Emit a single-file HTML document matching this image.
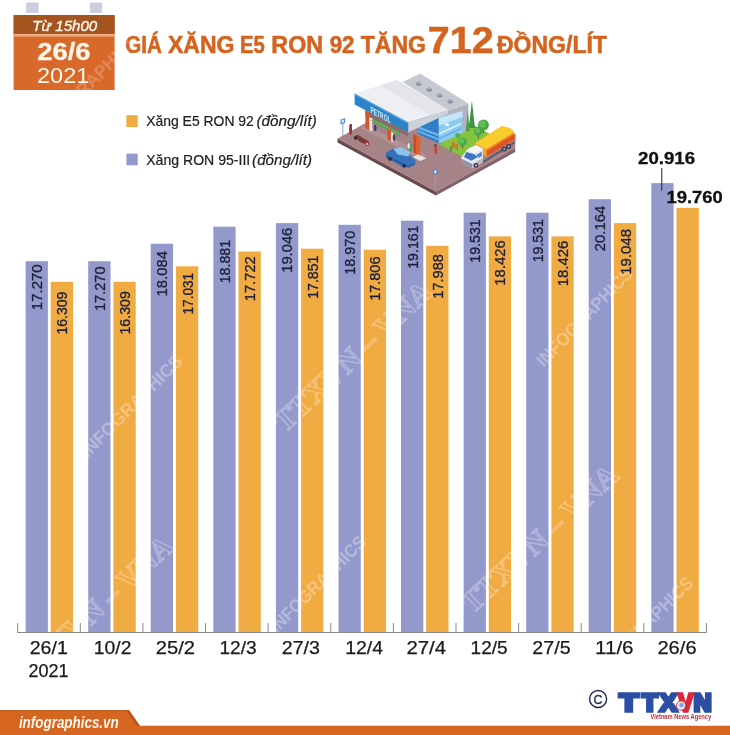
<!DOCTYPE html>
<html lang="vi">
<head>
<meta charset="utf-8">
<title>Giá xăng E5 RON 92 tăng 712 đồng/lít</title>
<style>
html,body{margin:0;padding:0;background:#fff;}
body{width:730px;height:735px;overflow:hidden;position:relative;font-family:"Liberation Sans",sans-serif;}
svg{display:block;position:absolute;left:0;top:0;}
text{font-family:"Liberation Sans",sans-serif;}
.bl{font-size:15px;fill:#1b1f3a;stroke:#1b1f3a;stroke-width:.3px;}
#dates text{fill:#1a1a1a;stroke:#1a1a1a;stroke-width:.25px;}
#toplabels text{fill:#111;stroke:#111;stroke-width:.3px;}
#title text{fill:#D4641F;stroke:#D4641F;stroke-width:.55px;}
#legend text{fill:#222;stroke:#222;stroke-width:.2px;}
#badge text{fill:#FFF6EA;}
.wm{font-weight:bold;fill:#fff;opacity:.30;}
</style>
</head>
<body>
<svg width="730" height="735" viewBox="0 0 730 735">
<rect width="730" height="735" fill="#ffffff"/>
<g id="badge">
<rect x="26.1" y="2.5" width="12.5" height="10.3" fill="#C9CFDE"/>
<rect x="90" y="2.5" width="12" height="10.3" fill="#C9CFDE"/>
<rect x="13.6" y="15" width="101" height="75" fill="#D9692A"/>
<rect x="13.6" y="15" width="101" height="18.9" fill="#A4541F"/>
<rect x="13.6" y="33.9" width="101" height="2.7" fill="#EBAE85"/>
<text x="32.32" y="31.2" font-size="15.4" font-style="italic" textLength="64.91" lengthAdjust="spacingAndGlyphs" stroke="#FFF6EA" stroke-width="0.35">Từ 15h00</text>
<text x="37.24" y="59.7" font-size="23.5" font-weight="bold" textLength="53.24" lengthAdjust="spacingAndGlyphs" stroke="#FFF6EA" stroke-width="0.3">26/6</text>
<text x="37.06" y="82.8" font-size="22.6" textLength="52.26" lengthAdjust="spacingAndGlyphs">2021</text>
</g>
<g id="title">
<text x="125.31" y="53.4" font-size="23" font-weight="bold" textLength="36.59" lengthAdjust="spacingAndGlyphs">GIÁ</text>
<text x="168.00" y="53.4" font-size="23" font-weight="bold" textLength="66.45" lengthAdjust="spacingAndGlyphs">XĂNG</text>
<text x="240.02" y="53.4" font-size="23" font-weight="bold" textLength="24.79" lengthAdjust="spacingAndGlyphs">E5</text>
<text x="271.39" y="53.4" font-size="23" font-weight="bold" textLength="51.75" lengthAdjust="spacingAndGlyphs">RON</text>
<text x="329.63" y="53.4" font-size="23" font-weight="bold" textLength="24.85" lengthAdjust="spacingAndGlyphs">92</text>
<text x="360.70" y="53.4" font-size="23" font-weight="bold" textLength="65.27" lengthAdjust="spacingAndGlyphs">TĂNG</text>
<text x="427.84" y="53.4" font-size="36.6" font-weight="bold" textLength="65.77" lengthAdjust="spacingAndGlyphs">712</text>
<text x="497.00" y="53.4" font-size="23" font-weight="bold" textLength="109.89" lengthAdjust="spacingAndGlyphs">ĐỒNG/LÍT</text>
</g>
<g id="legend">
<rect x="126.4" y="115.2" width="11.3" height="11.9" fill="#F1AB43"/>
<rect x="126.4" y="153.6" width="11.3" height="11.7" fill="#9499CB"/>
<text x="146.23" y="126.1" font-size="14.3" textLength="107.63" lengthAdjust="spacingAndGlyphs">Xăng E5 RON 92</text>
<text x="256.53" y="126.1" font-size="14.3" font-style="italic" textLength="60.32" lengthAdjust="spacingAndGlyphs">(đồng/lít)</text>
<text x="146.22" y="164.6" font-size="14.3" textLength="104.05" lengthAdjust="spacingAndGlyphs">Xăng RON 95-III</text>
<text x="252.14" y="164.6" font-size="14.3" font-style="italic" textLength="59.91" lengthAdjust="spacingAndGlyphs">(đồng/lít)</text>
</g>
<g id="station">
<polygon points="337.5,138.5 436.0,191.6 436.0,195.6 337.5,142.5" fill="#6A4C50"/>
<polygon points="436.0,191.6 515.2,148.1 515.2,152.1 436.0,195.6" fill="#84616A"/>
<polygon points="337.5,138.5 416.7,95.0 515.2,148.1 436.0,191.6" fill="#A68386"/>
<polygon points="360.1,128.0 366.2,125.0 426.4,155.1 420.4,158.9" fill="#B29194"/>
<polygon points="438.8,144.6 466.4,127.9 475.8,126.2 497.1,137.7 490.8,140.8 465.2,158.2" fill="#86C440"/>
<polygon points="465.2,158.2 515.7,134.0 515.2,148.1 507.2,152.5 471.2,166.4" fill="#A68386"/>
<polygon points="438.8,113.5 468.4,103.5 468.4,130.6 438.8,143.6" fill="#B0B4C0"/>
<polygon points="417.8,113.0 438.8,118.0 438.8,143.6 417.8,133.7" fill="#2F7FC6"/>
<polygon points="417.8,126.0 438.8,134.0 438.8,136.5 417.8,128.5" fill="#6BB4EA"/>
<polygon points="417.8,130.0 438.8,138.5 438.8,140.5 417.8,132.0" fill="#6BB4EA"/>
<polygon points="438.8,118.0 462.5,111.0 462.5,133.0 438.8,143.6" fill="#8CCBF1"/>
<polygon points="438.8,118.0 462.5,111.0 462.5,117.0 438.8,125.5" fill="#C4E6F8"/>
<polygon points="438.8,133.0 461.0,122.7 461.0,124.6 438.8,135.0" fill="#D6EEFA"/>
<polygon points="438.8,138.0 461.0,127.7 461.0,129.3 438.8,139.8" fill="#5FAEE8"/>
<ellipse cx="447.0" cy="124.5" rx="2.4" ry="1.6" fill="#F4FAFE" transform="rotate(0 447.0 124.5)"/>
<polygon points="402.5,82.0 420.2,73.6 468.4,103.5 448.0,110.3" fill="#C6C9D2"/>
<polygon points="415.9,83.0 418.9,81.6 421.3,83.2 421.3,85.2 418.3,86.2 415.9,84.8" fill="#8A8F9E"/>
<polygon points="415.9,83.0 418.9,81.6 421.3,83.2 418.3,84.4" fill="#A7ABB8"/>
<polygon points="426.5,88.7 429.5,87.3 431.9,88.9 431.9,90.9 428.9,91.9 426.5,90.5" fill="#8A8F9E"/>
<polygon points="426.5,88.7 429.5,87.3 431.9,88.9 428.9,90.1" fill="#A7ABB8"/>
<polygon points="436.9,94.5 439.9,93.1 442.3,94.7 442.3,96.7 439.3,97.7 436.9,96.3" fill="#8A8F9E"/>
<polygon points="436.9,94.5 439.9,93.1 442.3,94.7 439.3,95.9" fill="#A7ABB8"/>
<polygon points="447.5,100.5 450.5,99.1 452.9,100.7 452.9,102.7 449.9,103.7 447.5,102.3" fill="#8A8F9E"/>
<polygon points="447.5,100.5 450.5,99.1 452.9,100.7 449.9,101.9" fill="#A7ABB8"/>
<polygon points="365.4,115.2 408.1,136.3 408.1,132.5 365.4,109.9" fill="#8B6A70"/>
<polygon points="372.9,118.5 400.1,133.0 400.1,136.6 372.9,122.1" fill="#46A048"/>
<polygon points="372.9,119.7 400.1,134.2 400.1,135.1 372.9,120.6" fill="#8ED06A"/>
<polygon points="365.4,110.7 369.5,112.6 369.5,130.3 365.4,128.3" fill="#D8552B"/>
<polygon points="369.5,119.7 372.2,120.9 372.2,131.5 369.5,130.3" fill="#F3EDE6"/>
<polygon points="387.3,128.0 391.0,129.8 391.0,141.1 387.3,139.3" fill="#D8552B"/>
<polygon points="391.0,131.8 393.3,132.8 393.3,142.0 391.0,141.1" fill="#F3EDE6"/>
<ellipse cx="375.2" cy="128.0" rx="1.3" ry="3.2" fill="#3A3F6B" transform="rotate(0 375.2 128.0)"/>
<ellipse cx="394.0" cy="137.8" rx="1.3" ry="3.2" fill="#3A3F6B" transform="rotate(0 394.0 137.8)"/>
<polygon points="354.6,93.6 396.9,80.1 448.0,110.3 408.2,122.6" fill="#EEEFF3"/>
<polygon points="380.0,85.5 396.9,80.1 448.0,110.3 431.0,115.5" fill="#E3E5EA"/>
<polygon points="408.2,122.6 448.0,110.3 448.0,113.6 408.2,132.4" fill="#CDD1DA"/>
<polygon points="354.6,93.6 408.2,122.6 408.2,132.4 354.6,104.4" fill="#2C83C7"/>
<polygon points="354.6,93.6 408.2,122.6 408.2,123.8 354.6,94.8" fill="#5FA9DF"/>
<text transform="matrix(1 0.541 0 1 370.5 112.6)" font-size="9" font-weight="bold" fill="#CDEBFA" textLength="20" lengthAdjust="spacingAndGlyphs">PETROL</text>
<polygon points="413.5,134.3 420.3,137.4 420.3,155.9 413.5,152.8" fill="#E0602C"/>
<polygon points="413.5,134.3 416.2,135.5 416.2,154.0 413.5,152.8" fill="#C94E22"/>
<polygon points="418.2,154.4 426.4,158.2 420.4,160.9 412.6,157.1" fill="#E9E4E4"/>
<polygon points="407.6,142.3 412.1,144.4 412.1,152.1 407.6,150.0" fill="#4B9E6A"/>
<ellipse cx="408.7" cy="146.1" rx="1.2" ry="3.0" fill="#E8EDF2" transform="rotate(0 408.7 146.1)"/>
<polygon points="386.1,152.6 393.3,148.4 408.4,154.4 415.6,160.1 415.1,164.2 408.4,167.2 402.0,166.4 386.1,157.4" fill="#3472BD"/>
<polygon points="393.3,148.7 400.8,147.2 409.9,152.1 408.4,156.6 397.8,154.4" fill="#8FC3EE"/>
<polygon points="386.1,155.1 408.4,166.1 415.1,163.1 415.1,164.6 408.4,167.6 386.1,157.7" fill="#2A5C9C"/>
<circle cx="390.0" cy="158.9" r="1.9" fill="#2B2F45"/>
<circle cx="404.1" cy="165.8" r="2.0" fill="#2B2F45"/>
<polygon points="353.8,136.3 357.9,134.8 369.5,142.0 367.7,145.3 360.1,142.0" fill="#7A3B3B"/>
<circle cx="355.6" cy="138.1" r="1.8" fill="#3A2A30"/>
<circle cx="366.9" cy="144.1" r="2.1" fill="#B33A35"/>
<circle cx="366.9" cy="144.1" r="1.0" fill="#E6D9D9"/>
<ellipse cx="350.6" cy="130.0" rx="1.5" ry="5.0" fill="#8C3A3A" transform="rotate(0 350.6 130.0)"/>
<circle cx="350.8" cy="125.2" r="1.3" fill="#5A3030"/>
<path d="M342.8 122.7V136.6" stroke="#8C93A8" stroke-width="0.9"/>
<polygon points="340.5,119.4 345.1,117.9 345.1,123.0 340.5,124.6" fill="#4C8FD6"/>
<polygon points="341.6,120.3 344.0,119.6 344.0,122.1 341.6,122.9" fill="#DCEBFA"/>
<path d="M435.3 171.1V190.0" stroke="#9AA0B5" stroke-width="0.9"/>
<ellipse cx="435.3" cy="171.7" rx="2.3" ry="3.0" fill="#4C8FD6" transform="rotate(0 435.3 171.7)"/>
<ellipse cx="435.3" cy="171.7" rx="1.1" ry="1.7" fill="#E6F0FB" transform="rotate(0 435.3 171.7)"/>
<ellipse cx="435.8" cy="149.9" rx="1.4" ry="4.2" fill="#C8453C" transform="rotate(0 435.8 149.9)"/>
<circle cx="435.5" cy="145.3" r="1.2" fill="#6A3A35"/>
<polygon points="471.9,100.5 475.0,127.9 468.8,127.9" fill="#3F9443"/>
<polygon points="467.8,111.2 469.9,131.4 465.6,131.4" fill="#4AA04C"/>
<path d="M483.4 129.0V133.4" stroke="#6B4A2E" stroke-width="1"/>
<path d="M478.3 134.5V138.3" stroke="#6B4A2E" stroke-width="1"/>
<path d="M462.6 144.3V148.2" stroke="#6B4A2E" stroke-width="1"/>
<circle cx="483.4" cy="125.1" r="5.5" fill="#47A64A"/>
<circle cx="482.4" cy="124.2" r="3.4" fill="#62BD5A"/>
<circle cx="478.3" cy="131.2" r="4.4" fill="#47A64A"/>
<circle cx="477.5" cy="130.4" r="2.7" fill="#62BD5A"/>
<circle cx="462.6" cy="141.6" r="4.2" fill="#47A64A"/>
<circle cx="461.8" cy="140.8" r="2.6" fill="#62BD5A"/>
<circle cx="457.7" cy="135.5" r="2.5" fill="#4CAF50"/>
<ellipse cx="453.3" cy="144.9" rx="1.7" ry="3.4" fill="#C9792B" transform="rotate(0 453.3 144.9)"/>
<ellipse cx="456.8" cy="146.7" rx="1.7" ry="3.2" fill="#B8862F" transform="rotate(0 456.8 146.7)"/>
<ellipse cx="450.9" cy="148.7" rx="1.0" ry="2.6" fill="#3F8F4A" transform="rotate(0 450.9 148.7)"/>
<polygon points="482.9,160.8 514.7,141.0 514.7,143.2 482.9,163.5" fill="#5B5F72"/>
<path d="M475.0 143.2L501.5 126.2Q511.4 126.8 514.4 133.4L514.7 139.4L486.7 156.4Q476.8 154.2 475.0 143.2Z" fill="#F19A2B"/>
<path d="M475.0 143.2L501.5 126.2Q510.8 126.8 514.0 132.3L486.2 149.2Z" fill="#FACD2E"/>
<polygon points="486.3,150.7 514.4,134.0 514.7,139.4 486.7,156.4" fill="#E1522A"/>
<polygon points="486.3,149.2 514.2,132.6 514.4,134.0 486.3,150.7" fill="#F08A2B"/>
<polygon points="475.0,143.2 486.2,149.2 486.7,156.4 477.4,152.5" fill="#EBA22C"/>
<circle cx="504.2" cy="148.9" r="2.5" fill="#3A3D4F"/>
<circle cx="508.6" cy="146.5" r="2.5" fill="#3A3D4F"/>
<circle cx="504.2" cy="148.9" r="0.9" fill="#C9CCD6"/>
<circle cx="508.6" cy="146.5" r="0.9" fill="#C9CCD6"/>
<polygon points="461.0,157.7 467.5,149.2 475.8,144.9 482.9,148.7 482.9,162.1 472.5,168.2 461.0,162.7" fill="#E6E9EF"/>
<polygon points="467.5,149.5 475.8,145.1 482.7,148.7 474.3,153.3" fill="#F4F6F9"/>
<polygon points="466.4,152.0 474.3,154.2 477.9,156.9 471.4,160.8 464.0,156.9" fill="#3E74C4"/>
<polygon points="476.3,154.7 481.8,151.8 482.0,155.8 478.7,158.0" fill="#4C86D2"/>
<polygon points="461.0,158.6 472.5,164.0 472.5,168.2 461.0,162.7" fill="#8F94A6"/>
<polygon points="472.5,164.0 482.9,158.0 482.9,162.1 472.5,168.2" fill="#B4B8C5"/>
<circle cx="476.0" cy="165.4" r="2.4" fill="#3A3D4F"/>
<circle cx="476.0" cy="165.4" r="1.0" fill="#C9CCD6"/>
</g>
<g id="bars">
<rect x="25.6" y="261.2" width="22.3" height="370.8" fill="#9499CB"/>
<rect x="50.8" y="281.8" width="22.3" height="350.2" fill="#F1AB43"/>
<rect x="88.2" y="261.2" width="22.3" height="370.8" fill="#9499CB"/>
<rect x="113.4" y="281.8" width="22.3" height="350.2" fill="#F1AB43"/>
<rect x="150.7" y="243.7" width="22.3" height="388.3" fill="#9499CB"/>
<rect x="175.9" y="266.3" width="22.3" height="365.7" fill="#F1AB43"/>
<rect x="213.3" y="226.7" width="22.3" height="405.3" fill="#9499CB"/>
<rect x="238.5" y="251.5" width="22.3" height="380.5" fill="#F1AB43"/>
<rect x="275.9" y="223.1" width="22.3" height="408.9" fill="#9499CB"/>
<rect x="301.1" y="248.7" width="22.3" height="383.3" fill="#F1AB43"/>
<rect x="338.5" y="224.8" width="22.3" height="407.2" fill="#9499CB"/>
<rect x="363.7" y="249.7" width="22.3" height="382.3" fill="#F1AB43"/>
<rect x="401.0" y="220.7" width="22.3" height="411.3" fill="#9499CB"/>
<rect x="426.2" y="245.8" width="22.3" height="386.2" fill="#F1AB43"/>
<rect x="463.6" y="212.7" width="22.3" height="419.3" fill="#9499CB"/>
<rect x="488.8" y="236.4" width="22.3" height="395.6" fill="#F1AB43"/>
<rect x="526.2" y="212.7" width="22.3" height="419.3" fill="#9499CB"/>
<rect x="551.4" y="236.4" width="22.3" height="395.6" fill="#F1AB43"/>
<rect x="588.7" y="199.2" width="22.3" height="432.8" fill="#9499CB"/>
<rect x="613.9" y="223.1" width="22.3" height="408.9" fill="#F1AB43"/>
<rect x="651.3" y="183.1" width="22.3" height="448.9" fill="#9499CB"/>
<rect x="676.5" y="207.8" width="22.3" height="424.2" fill="#F1AB43"/>
</g>
<g id="watermarks">
<text transform="translate(43.5 137.5) rotate(-45.0)" font-size="18" font-weight="bold" fill="#fff" opacity="0.2" textLength="135.8" lengthAdjust="spacingAndGlyphs">INFOGRAPHICS</text>
<text transform="translate(87.7 458.2) rotate(-45.0)" font-size="18" font-weight="bold" fill="#fff" opacity="0.3" textLength="135.6" lengthAdjust="spacingAndGlyphs">INFOGRAPHICS</text>
<text transform="translate(285.0 433.6) rotate(-43.2)" font-size="30" style="font-family:'Liberation Serif',serif" font-weight="bold" fill="none" stroke="#fff" stroke-width="1.3" opacity="0.30" textLength="204.3" lengthAdjust="spacingAndGlyphs">TTXVN – VNA</text>
<text transform="translate(30.0 682.0) rotate(-42.6)" font-size="30" style="font-family:'Liberation Serif',serif" font-weight="bold" fill="none" stroke="#fff" stroke-width="1.3" opacity="0.30" textLength="197.3" lengthAdjust="spacingAndGlyphs">TTXVN – VNA</text>
<text transform="translate(276.7 633.6) rotate(-45.0)" font-size="18" font-weight="bold" fill="#fff" opacity="0.3" textLength="127.8" lengthAdjust="spacingAndGlyphs">INFOGRAPHICS</text>
<text transform="translate(543.7 367.8) rotate(-45.8)" font-size="18" font-weight="bold" fill="#fff" opacity="0.3" textLength="129.8" lengthAdjust="spacingAndGlyphs">INFOGRAPHICS</text>
<text transform="translate(472.5 614.4) rotate(-42.8)" font-size="30" style="font-family:'Liberation Serif',serif" font-weight="bold" fill="none" stroke="#fff" stroke-width="1.3" opacity="0.30" textLength="201.6" lengthAdjust="spacingAndGlyphs">TTXVN – VNA</text>
<text transform="translate(603.0 675.0) rotate(-44.8)" font-size="18" font-weight="bold" fill="#fff" opacity="0.3" textLength="128.8" lengthAdjust="spacingAndGlyphs">INFOGRAPHICS</text>
</g>
<g id="axis" stroke="#8a8a8a" stroke-width="1" fill="none">
<path d="M17.5 632.5H706.5"/>
<path d="M17.7 623V632.5"/>
<path d="M80.3 623V632.5"/>
<path d="M142.9 623V632.5"/>
<path d="M205.5 623V632.5"/>
<path d="M268.1 623V632.5"/>
<path d="M330.8 623V632.5"/>
<path d="M393.4 623V632.5"/>
<path d="M456.0 623V632.5"/>
<path d="M518.6 623V632.5"/>
<path d="M581.2 623V632.5"/>
<path d="M643.8 623V632.5"/>
<path d="M706.4 623V632.5"/>
</g>
<g id="barlabels">
<text class="bl" transform="translate(42.1 309.2) rotate(-90)" x="-1.00" textLength="45.89" lengthAdjust="spacingAndGlyphs">17.270</text>
<text class="bl" transform="translate(67.3 333.6) rotate(-90)" x="-0.93" textLength="42.87" lengthAdjust="spacingAndGlyphs">16.309</text>
<text class="bl" transform="translate(104.7 310.1) rotate(-90)" x="-0.97" textLength="44.64" lengthAdjust="spacingAndGlyphs">17.270</text>
<text class="bl" transform="translate(129.9 333.6) rotate(-90)" x="-0.95" textLength="43.39" lengthAdjust="spacingAndGlyphs">16.309</text>
<text class="bl" transform="translate(167.3 295.5) rotate(-90)" x="-0.99" textLength="45.37" lengthAdjust="spacingAndGlyphs">18.084</text>
<text class="bl" transform="translate(192.5 313.6) rotate(-90)" x="-0.91" textLength="41.72" lengthAdjust="spacingAndGlyphs">17.031</text>
<text class="bl" transform="translate(229.9 282.4) rotate(-90)" x="-0.95" textLength="43.49" lengthAdjust="spacingAndGlyphs">18.881</text>
<text class="bl" transform="translate(255.1 300.3) rotate(-90)" x="-0.98" textLength="45.06" lengthAdjust="spacingAndGlyphs">17.722</text>
<text class="bl" transform="translate(292.4 271.8) rotate(-90)" x="-0.98" textLength="45.06" lengthAdjust="spacingAndGlyphs">19.046</text>
<text class="bl" transform="translate(317.6 297.9) rotate(-90)" x="-0.94" textLength="43.28" lengthAdjust="spacingAndGlyphs">17.851</text>
<text class="bl" transform="translate(355.0 273.8) rotate(-90)" x="-0.96" textLength="43.91" lengthAdjust="spacingAndGlyphs">18.970</text>
<text class="bl" transform="translate(380.2 299.9) rotate(-90)" x="-0.97" textLength="44.33" lengthAdjust="spacingAndGlyphs">17.806</text>
<text class="bl" transform="translate(417.6 267.9) rotate(-90)" x="-0.95" textLength="43.49" lengthAdjust="spacingAndGlyphs">19.161</text>
<text class="bl" transform="translate(442.8 297.7) rotate(-90)" x="-0.97" textLength="44.53" lengthAdjust="spacingAndGlyphs">17.988</text>
<text class="bl" transform="translate(480.1 261.8) rotate(-90)" x="-0.95" textLength="43.49" lengthAdjust="spacingAndGlyphs">19.531</text>
<text class="bl" transform="translate(505.3 284.8) rotate(-90)" x="-0.99" textLength="45.47" lengthAdjust="spacingAndGlyphs">18.426</text>
<text class="bl" transform="translate(542.7 261.4) rotate(-90)" x="-0.94" textLength="43.28" lengthAdjust="spacingAndGlyphs">19.531</text>
<text class="bl" transform="translate(567.9 285.3) rotate(-90)" x="-1.00" textLength="45.68" lengthAdjust="spacingAndGlyphs">18.426</text>
<text class="bl" transform="translate(605.3 250.3) rotate(-90)" x="-0.99" textLength="45.58" lengthAdjust="spacingAndGlyphs">20.164</text>
<text class="bl" transform="translate(630.5 273.8) rotate(-90)" x="-1.00" textLength="45.89" lengthAdjust="spacingAndGlyphs">19.048</text>
</g>
<path d="M661.8 168V190.5" stroke="#222" stroke-width="1" fill="none"/>
<g id="toplabels">
<text x="638.07" y="164.2" font-size="16.5" font-weight="bold" textLength="57.06" lengthAdjust="spacingAndGlyphs">20.916</text>
<text x="666.48" y="202.7" font-size="16.5" font-weight="bold" textLength="56.34" lengthAdjust="spacingAndGlyphs">19.760</text>
</g>
<g id="dates">
<text x="29.76" y="654.2" font-size="18.8" textLength="38.03" lengthAdjust="spacingAndGlyphs">26/1</text>
<text x="93.87" y="654.2" font-size="18.8" textLength="37.61" lengthAdjust="spacingAndGlyphs">10/2</text>
<text x="155.73" y="654.2" font-size="18.8" textLength="39.28" lengthAdjust="spacingAndGlyphs">25/2</text>
<text x="219.48" y="654.2" font-size="18.8" textLength="37.19" lengthAdjust="spacingAndGlyphs">12/3</text>
<text x="281.75" y="654.2" font-size="18.8" textLength="38.23" lengthAdjust="spacingAndGlyphs">27/3</text>
<text x="345.16" y="654.2" font-size="18.8" textLength="37.92" lengthAdjust="spacingAndGlyphs">12/4</text>
<text x="406.41" y="654.2" font-size="18.8" textLength="39.70" lengthAdjust="spacingAndGlyphs">27/4</text>
<text x="470.59" y="654.2" font-size="18.8" textLength="37.08" lengthAdjust="spacingAndGlyphs">12/5</text>
<text x="532.35" y="654.2" font-size="18.8" textLength="38.23" lengthAdjust="spacingAndGlyphs">27/5</text>
<text x="595.00" y="654.2" font-size="18.8" textLength="38.58" lengthAdjust="spacingAndGlyphs">11/6</text>
<text x="657.43" y="654.2" font-size="18.8" textLength="39.17" lengthAdjust="spacingAndGlyphs">26/6</text>
<text x="28.44" y="677.3" font-size="18.8" textLength="40.11" lengthAdjust="spacingAndGlyphs">2021</text>
</g>
<g id="footer">
<path d="M0 710.3H129L139.8 725.8H730V735H0Z" fill="#D5651F"/>
<path d="M0 710.3H129V711.3H0Z" fill="#BE5A1D"/>
<path d="M129 710.3L139.8 725.8H136.6L126.4 710.3Z" fill="#B9531A"/>
<text x="18.90" y="727.6" font-size="16" font-weight="bold" font-style="italic" textLength="99.84" lengthAdjust="spacingAndGlyphs" fill="#FFF6EC">infographics.vn</text>
<circle cx="598.1" cy="699" r="8.5" fill="none" stroke="#1d2452" stroke-width="1.4"/>
<text x="598.1" y="703.5" text-anchor="middle" font-size="12.6" fill="#1d2452" stroke="#1d2452" stroke-width="0.3">C</text>
<g id="logo" font-weight="bold" stroke-width="3.6" stroke-linejoin="miter">
<text x="619.40" y="711.1" font-size="24.8" font-weight="bold" textLength="18.59" lengthAdjust="spacingAndGlyphs" fill="#2C4FA3" stroke="#2C4FA3">T</text>
<text x="642.00" y="711.1" font-size="24.8" font-weight="bold" textLength="15.56" lengthAdjust="spacingAndGlyphs" fill="#2C4FA3" stroke="#2C4FA3">T</text>
<text x="659.99" y="711.1" font-size="24.8" font-weight="bold" textLength="16.77" lengthAdjust="spacingAndGlyphs" fill="#2C4FA3" stroke="#2C4FA3">X</text>
<text x="693.81" y="711.1" font-size="24.8" font-weight="bold" textLength="17.79" lengthAdjust="spacingAndGlyphs" fill="#2C4FA3" stroke="#2C4FA3">N</text>
<text x="678.60" y="711.1" font-size="24.8" font-weight="bold" textLength="14.27" lengthAdjust="spacingAndGlyphs" fill="#D9283B" stroke="#D9283B">V</text>
<circle cx="681" cy="705.6" r="4.6" fill="#EAF1FA" stroke="#D9283B" stroke-width="0.9"/>
<circle cx="681.5" cy="705.2" r="2.4" fill="#7FA6DC" stroke="none"/>
</g>
<text x="650.50" y="718.5" font-size="6.4" font-weight="bold" textLength="60.66" lengthAdjust="spacingAndGlyphs" fill="#C42B3A">Vietnam News Agency</text>
</g>
</svg>
</body>
</html>
